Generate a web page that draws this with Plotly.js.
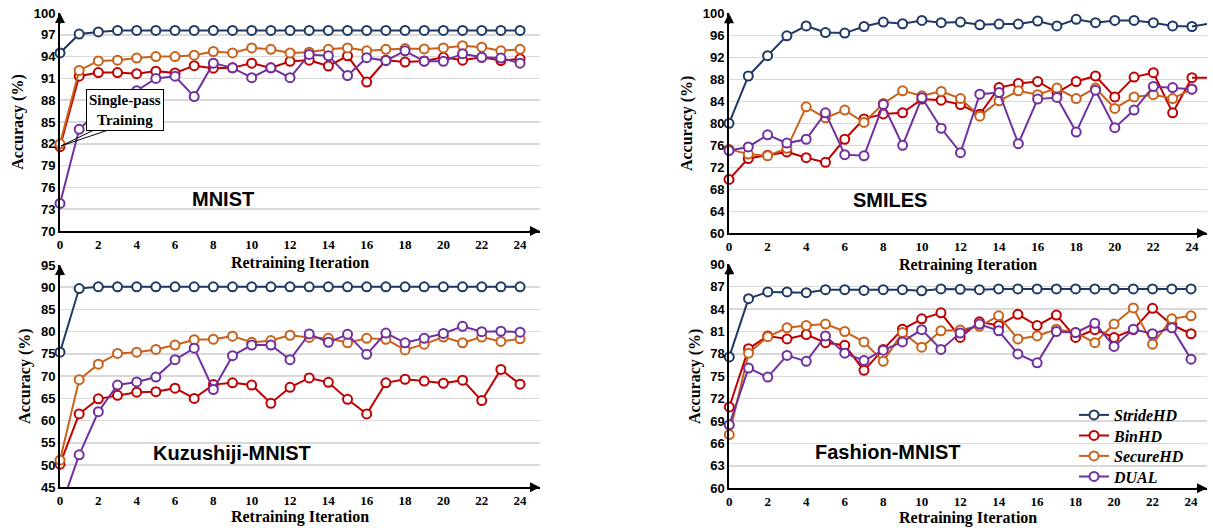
<!DOCTYPE html>
<html>
<head>
<meta charset="utf-8">
<script src="https://cdn.plot.ly/plotly-3.0.1.min.js"></script>
<style>html,body{margin:0;padding:0;background:#fff;}#chart{width:1213px;height:528px;}</style>
</head>
<body>
<div id="chart"></div>
<script>
// ---------- DATA ----------
const iterations = [0,1,2,3,4,5,6,7,8,9,10,11,12,13,14,15,16,17,18,19,20,21,22,23,24];
const extIterations = [24, 25];
const seriesNames = ['StrideHD', 'BinHD', 'SecureHD', 'DUAL'];
const datasetNames = ['MNIST', 'SMILES', 'Kuzushiji-MNIST', 'Fashion-MNIST'];

const mnistStride = [94.5, 97.1, 97.4, 97.6, 97.6, 97.6, 97.6, 97.6, 97.6, 97.6, 97.6, 97.6, 97.6, 97.6, 97.6, 97.6, 97.6, 97.6, 97.6, 97.6, 97.6, 97.6, 97.6, 97.6, 97.6];
const mnistBin    = [81.6, 91.3, 91.8, 91.8, 91.65, 92.0, 91.75, 92.75, 92.4, 92.45, 93.1, 92.45, 93.35, 93.5, 92.7, 94.1, 90.5, 93.5, 93.25, 93.4, 93.9, 93.5, 93.9, 93.45, 93.7];
const mnistSecure = [82.0, 92.1, 93.4, 93.5, 93.8, 94.0, 94.0, 94.2, 94.7, 94.5, 95.2, 95.0, 94.5, 94.6, 95.0, 95.2, 94.8, 95.0, 95.1, 95.05, 95.2, 95.5, 95.3, 94.8, 95.0];
const mnistDual   = [73.8, 84.0, 86.5, 88.0, 89.3, 91.0, 91.3, 88.5, 93.1, 92.45, 91.1, 92.45, 91.1, 94.3, 94.1, 91.4, 93.85, 93.45, 94.8, 93.35, 93.35, 94.4, 93.9, 93.8, 93.1];

const smilesStride = [80.0, 88.6, 92.3, 95.9, 97.7, 96.5, 96.4, 97.6, 98.4, 98.1, 98.7, 98.3, 98.4, 97.9, 98.05, 98.05, 98.6, 97.7, 98.9, 98.3, 98.7, 98.7, 98.3, 97.7, 97.6, 98.2];
const smilesBin    = [69.8, 73.6, 74.2, 74.8, 73.75, 72.9, 77.1, 80.8, 81.7, 81.9, 84.4, 84.2, 83.4, 81.65, 86.5, 87.25, 87.6, 85.6, 87.6, 88.6, 84.8, 88.4, 89.2, 81.9, 88.3, 88.3];
const smilesSecure = [75.3, 74.4, 74.1, 75.45, 83.0, 81.0, 82.4, 80.15, 83.6, 85.9, 85.0, 85.8, 84.5, 81.3, 84.1, 85.9, 85.2, 86.4, 84.5, 86.4, 82.7, 84.8, 85.2, 84.5, 86.2];
const smilesDual   = [75.05, 75.7, 77.9, 76.4, 77.1, 81.9, 74.3, 74.1, 83.4, 76.0, 84.65, 79.1, 74.65, 85.3, 85.6, 76.3, 84.4, 84.7, 78.4, 86.0, 79.2, 82.4, 86.7, 86.5, 86.2];

const kmnistStride = [75.4, 89.7, 90.1, 90.1, 90.1, 90.1, 90.1, 90.1, 90.1, 90.1, 90.1, 90.1, 90.1, 90.1, 90.1, 90.1, 90.1, 90.1, 90.1, 90.1, 90.1, 90.1, 90.1, 90.1, 90.1];
const kmnistBin    = [50.2, 61.5, 64.9, 65.7, 66.4, 66.5, 67.3, 65.0, 68.1, 68.5, 68.0, 63.9, 67.5, 69.6, 68.6, 64.8, 61.5, 68.5, 69.3, 68.9, 68.4, 69.1, 64.5, 71.5, 68.2];
const kmnistSecure = [51.1, 69.2, 72.7, 75.1, 75.4, 76.0, 77.0, 78.2, 78.3, 79.0, 77.6, 78.0, 79.2, 78.7, 78.5, 77.5, 78.5, 78.3, 75.9, 77.2, 78.8, 77.5, 78.8, 77.8, 78.4];
const kmnistDual   = [40.0, 52.3, 62.0, 68.0, 68.7, 69.8, 73.7, 76.3, 67.0, 74.6, 77.0, 77.0, 73.7, 79.5, 77.6, 79.4, 74.9, 79.7, 77.5, 78.5, 79.6, 81.2, 80.0, 80.1, 79.9];

const fmnistStride = [77.6, 85.4, 86.3, 86.3, 86.2, 86.6, 86.6, 86.5, 86.6, 86.6, 86.45, 86.7, 86.65, 86.6, 86.7, 86.7, 86.7, 86.7, 86.7, 86.7, 86.7, 86.7, 86.7, 86.7, 86.7];
const fmnistBin    = [70.9, 78.7, 80.4, 80.0, 80.6, 79.5, 79.15, 75.8, 78.6, 81.3, 82.7, 83.5, 80.2, 82.3, 81.8, 83.3, 81.8, 83.2, 80.2, 81.25, 80.2, 81.25, 84.1, 81.9, 80.7];
const fmnistSecure = [67.2, 78.1, 80.3, 81.5, 81.8, 82.0, 81.0, 79.6, 77.0, 80.85, 78.9, 81.1, 81.2, 81.7, 83.1, 80.0, 80.4, 81.3, 80.85, 79.5, 82.0, 84.15, 79.3, 82.7, 83.1];
const fmnistDual   = [68.5, 76.1, 74.9, 77.8, 77.0, 80.4, 78.1, 77.1, 78.5, 79.6, 81.25, 78.6, 80.8, 82.0, 81.1, 78.0, 76.8, 81.0, 80.85, 82.1, 79.0, 81.3, 80.7, 81.5, 77.3];

const xTickVals = [0, 2, 4, 6, 8, 10, 12, 14, 16, 18, 20, 22, 24];
const mnistTicks  = [70, 73, 76, 79, 82, 85, 88, 91, 94, 97, 100];
const smilesTicks = [60, 64, 68, 72, 76, 80, 84, 88, 92, 96, 100];
const kmnistTicks = [45, 50, 55, 60, 65, 70, 75, 80, 85, 90, 95];
const fmnistTicks = [60, 63, 66, 69, 72, 75, 78, 81, 84, 87, 90];
const annotationText = 'Single-pass<br>Training';

// ---------- STYLE ----------
const colors = ['#203864', '#C00000', '#C8621A', '#7030A0'];
const W = 1213, H = 528;
const serif = 'Liberation Serif, Times New Roman, serif';
const sans = 'Liberation Sans, Arial, sans-serif';
const legendCentersPx = [415, 435.5, 456, 476.5];

const panels = [
  {series: [mnistStride, mnistBin, mnistSecure, mnistDual], ticks: mnistTicks, range: [70, 100],
   xd: [60, 540], yd: [13, 231], xr: [0, 25.04], label: [223, 199], standoff: 6},
  {series: [smilesStride, smilesBin, smilesSecure, smilesDual], ticks: smilesTicks, range: [60, 100],
   xd: [729, 1207], yd: [13.3, 233.3], xr: [0, 24.78], label: [890, 200], standoff: 6},
  {series: [kmnistStride, kmnistBin, kmnistSecure, kmnistDual], ticks: kmnistTicks, range: [45, 95],
   xd: [60, 540], yd: [265, 487.3], xr: [0, 25.04], label: [232, 453], standoff: 1},
  {series: [fmnistStride, fmnistBin, fmnistSecure, fmnistDual], ticks: fmnistTicks, range: [60, 90],
   xd: [729.3, 1207], yd: [264.3, 488.3], xr: [0, 24.83], label: [888, 452], standoff: 1}
];

const traces = [];
const layout = {
  width: W, height: H,
  margin: {l: 0, r: 0, t: 0, b: 0},
  paper_bgcolor: '#fff', plot_bgcolor: 'rgba(0,0,0,0)',
  font: {family: serif, color: '#000'},
  showlegend: true,
  annotations: [], shapes: []
};
seriesNames.forEach((nm, s) => {
  layout['legend' + (s ? s + 1 : '')] = {
    x: 1074 / W, y: 1 - legendCentersPx[s] / H, xanchor: 'left', yanchor: 'middle',
    bgcolor: 'rgba(0,0,0,0)', borderwidth: 0,
    font: {family: serif, size: 16, weight: 'bold', style: 'italic', color: '#000'},
    itemwidth: 30
  };
});

panels.forEach((p, i) => {
  const n = i === 0 ? '' : String(i + 1);
  const xa = 'x' + n, ya = 'y' + n;
  p.series.forEach((vals, s) => {
    traces.push({
      type: 'scatter', mode: 'lines+markers',
      x: iterations, y: vals.slice(0, iterations.length),
      xaxis: xa, yaxis: ya,
      name: seriesNames[s], showlegend: i === 3,
      legend: 'legend' + (s ? s + 1 : ''),
      cliponaxis: !(vals[0] >= p.range[0]),
      line: {color: colors[s], width: 2},
      marker: {symbol: 'circle', size: 9, color: '#fff', line: {color: colors[s], width: 2}}
    });
    if (vals.length > iterations.length) {
      traces.push({
        type: 'scatter', mode: 'lines', x: extIterations,
        y: vals.slice(iterations.length - 1, iterations.length + 1),
        xaxis: xa, yaxis: ya, showlegend: false, hoverinfo: 'skip',
        line: {color: colors[s], width: 2}
      });
    }
  });
  layout['xaxis' + n] = {
    domain: [p.xd[0] / W, p.xd[1] / W], range: p.xr, anchor: ya,
    tickvals: xTickVals, ticks: '', showgrid: false, zeroline: false,
    showline: true, linecolor: '#000', linewidth: 2,
    tickfont: {family: serif, size: 13, weight: 'bold', color: '#000'},
    title: {text: 'Retraining Iteration', font: {family: serif, size: 16, weight: 'bold', color: '#000'}, standoff: p.standoff}
  };
  layout['yaxis' + n] = {
    domain: [1 - p.yd[1] / H, 1 - p.yd[0] / H], range: p.range, anchor: xa,
    tickvals: p.ticks, ticks: '', showgrid: true, gridcolor: '#d9d9d9', gridwidth: 1.5,
    zeroline: false, showline: true, linecolor: '#000', linewidth: 2,
    tickfont: {family: sans, size: 13, weight: 'bold', color: '#000'},
    title: {text: 'Accuracy (%)', font: {family: serif, size: 16, weight: 'bold', color: '#000'}, standoff: 6}
  };
  // axis arrowheads
  layout.annotations.push({
    xref: xa + ' domain', yref: ya + ' domain', x: 1, y: 0, ax: -12, ay: 0,
    text: '', showarrow: true, arrowhead: 2, arrowsize: 1, arrowwidth: 2, arrowcolor: '#000'
  });
  layout.annotations.push({
    xref: xa + ' domain', yref: ya + ' domain', x: 0, y: 1, ax: 0, ay: 12,
    text: '', showarrow: true, arrowhead: 2, arrowsize: 1, arrowwidth: 2, arrowcolor: '#000'
  });
  // dataset label
  layout.annotations.push({
    xref: 'paper', yref: 'paper', x: p.label[0] / W, y: 1 - p.label[1] / H,
    xanchor: 'center', yanchor: 'middle', showarrow: false,
    text: datasetNames[i], font: {family: sans, size: 20, weight: 'bold', color: '#000'}
  });
});

// Single-pass training callout (MNIST panel)
layout.annotations.push({
  xref: 'x', yref: 'y', x: 3.39, y: 86.6, xanchor: 'center', yanchor: 'middle',
  showarrow: false, text: annotationText, align: 'center',
  font: {family: serif, size: 15, weight: 'bold', color: '#000'},
  bgcolor: '#fff', bordercolor: '#000', borderwidth: 1, borderpad: 2
});
layout.shapes.push(
  {type: 'line', xref: 'x', yref: 'y', x0: 0.05, y0: 81.7, x1: 1.93, y1: 84.1, line: {color: '#000', width: 1}, layer: 'above'},
  {type: 'line', xref: 'x', yref: 'y', x0: 0.05, y0: 81.7, x1: 2.75, y1: 84.1, line: {color: '#000', width: 1}, layer: 'above'}
);

Plotly.newPlot('chart', traces, layout, {staticPlot: true, displayModeBar: false});
</script>
</body>
</html>
